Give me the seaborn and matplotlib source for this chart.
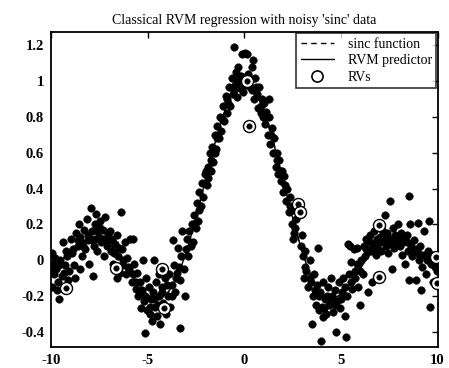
import numpy as np
import pandas as pd
import matplotlib
matplotlib.use("Agg")
import matplotlib.pyplot as plt
from matplotlib.lines import Line2D
import seaborn as sns

# ---- noisy data points ----
data_x = [
    -9.96, -9.9, -9.85, -9.8, -9.72, -9.65, -9.58, -9.55, -9.45, -9.38, -9.3, -9.2, -9.12, -9.05, -9.95, -9.7,
    -8.95, -8.9, -8.83, -8.75, -8.7, -8.62, -8.55, -8.5, -8.45, -8.38, -8.3, -8.22, -8.15, -8.08, -8.02, -8.5,
    -7.95, -7.9, -7.85, -7.8, -7.72, -7.65, -7.6, -7.52, -7.45, -7.4, -7.32, -7.25, -7.18, -7.1, -7.05, -7.6,
    -6.95, -6.9, -6.85, -6.78, -6.7, -6.64, -6.6, -6.52, -6.45, -6.38, -6.32, -6.25, -6.18, -6.1, -6.05, -6.6,
    -5.95, -5.9, -5.82, -5.78, -5.7, -5.62, -5.55, -5.48, -5.4, -5.35, -5.28, -5.2, -5.13, -5.1, -5.05, -5.26,
    -4.95, -4.9, -4.85, -4.78, -4.7, -4.69, -4.62, -4.55, -4.5, -4.42, -4.35, -4.28, -4.2, -4.12, -4.05, -4.4,
    -3.95, -3.9, -3.82, -3.75, -3.7, -3.65, -3.58, -3.5, -3.45, -3.35, -3.3, -3.25, -3.2, -3.12, -3.05, -3.02,
    -2.95, -2.9, -2.85, -2.78, -2.7, -2.65, -2.58, -2.52, -2.45, -2.4, -2.32, -2.25, -2.2, -2.12, -2.05,
    -1.95, -1.9, -1.85, -1.78, -1.72, -1.65, -1.6, -1.52, -1.45, -1.4, -1.33, -1.25, -1.2, -1.12, -1.05, -1.5,
    -0.95, -0.9, -0.85, -0.78, -0.72, -0.65, -0.6, -0.52, -0.5, -0.42, -0.35, -0.3, -0.22, -0.15, -0.1, -0.05, -0.3,
    0.05, 0.12, 0.15, 0.2, 0.26, 0.3, 0.38, 0.46, 0.5, 0.58, 0.65, 0.7, 0.78, 0.85, 0.92, 0.98, 0.4,
    1.02, 1.08, 1.15, 1.22, 1.28, 1.35, 1.42, 1.48, 1.55, 1.62, 1.7, 1.75, 1.82, 1.9, 1.96, 1.3,
    2.02, 2.08, 2.15, 2.22, 2.3, 2.38, 2.45, 2.52, 2.6, 2.68, 2.77, 2.86, 2.92, 2.98, 2.5,
    3.02, 3.08, 3.15, 3.22, 3.3, 3.38, 3.45, 3.5, 3.56, 3.62, 3.7, 3.8, 3.78, 3.85, 3.92, 3.98,
    4.02, 4.05, 4.1, 4.18, 4.25, 4.32, 4.4, 4.48, 4.55, 4.6, 4.68, 4.76, 4.82, 4.9, 4.96, 4.3,
    5.05, 5.12, 5.19, 5.27, 5.3, 5.37, 5.42, 5.45, 5.54, 5.6, 5.68, 5.75, 5.82, 5.9, 5.97, 5.85,
    6.05, 6.12, 6.18, 6.25, 6.32, 6.4, 6.45, 6.52, 6.6, 6.65, 6.72, 6.8, 6.86, 6.92, 6.98, 6.98, 6.5,
    7.05, 7.1, 7.15, 7.22, 7.27, 7.32, 7.4, 7.45, 7.53, 7.58, 7.62, 7.68, 7.75, 7.82, 7.9, 7.96,
    8.05, 8.12, 8.18, 8.25, 8.32, 8.4, 8.46, 8.54, 8.57, 8.54, 8.62, 8.7, 8.78, 8.87, 8.92, 8.97,
    9.05, 9.1, 9.15, 9.22, 9.3, 9.35, 9.42, 9.5, 9.58, 9.62, 9.68, 9.75, 9.82, 9.9, 9.95, 9.98,
]
data_y = [
    0.04, -0.02, -0.08, 0.01, -0.05, -0.12, -0.22, 0.0, -0.09, 0.1, -0.03, 0.05, -0.11, -0.06, -0.15, -0.17,
    0.12, 0.04, -0.03, -0.1, 0.15, 0.08, 0.2, -0.05, 0.1, 0.02, 0.17, 0.06, 0.23, 0.11, -0.02, 0.13,
    0.29, 0.16, -0.09, 0.08, 0.2, 0.26, 0.05, 0.13, 0.22, 0.1, 0.17, 0.02, 0.24, 0.08, 0.14, 0.16,
    0.16, 0.05, 0.11, -0.02, 0.09, -0.05, 0.14, 0.02, -0.07, 0.27, 0.06, -0.03, 0.1, -0.08, 0.01, -0.1,
    -0.05, 0.12, -0.12, 0.12, -0.02, -0.16, -0.07, -0.2, -0.12, -0.27, -0.17, -0.23, -0.41, -0.1, -0.28, 0.0,
    -0.15, -0.3, -0.22, -0.34, -0.18, 0.0, -0.26, -0.12, -0.31, -0.2, -0.36, -0.15, -0.24, -0.1, -0.3, -0.08,
    -0.2, -0.08, -0.26, -0.14, 0.11, -0.03, -0.18, -0.07, 0.07, -0.38, -0.11, 0.02, 0.16, -0.05, -0.2, 0.06,
    0.12, 0.02, 0.16, 0.08, 0.2, 0.1, 0.25, 0.18, 0.32, 0.22, 0.38, 0.3, 0.43, 0.35, 0.48,
    0.42, 0.52, 0.46, 0.6, 0.5, 0.63, 0.55, 0.7, 0.62, 0.75, 0.68, 0.8, 0.72, 0.86, 0.78, 0.6,
    0.92, 0.82, 0.88, 0.97, 0.86, 1.02, 0.93, 1.19, 0.98, 1.05, 0.91, 1.08, 0.96, 1.03, 1.15, 0.94, 1.0,
    1.16, 1.15, 1.0, 1.04, 0.75, 0.97, 1.08, 1.12, 0.9, 1.02, 0.93, 0.85, 0.97, 0.82, 0.9, 0.8, 0.95,
    0.88, 0.76, 0.83, 0.7, 0.8, 0.65, 0.74, 0.6, 0.68, 0.52, 0.6, 0.48, 0.56, 0.44, 0.5, 0.9,
    0.38, 0.47, 0.33, 0.4, 0.27, 0.35, 0.2, 0.28, 0.15, 0.23, 0.31, 0.27, 0.08, 0.14, 0.12,
    0.02, -0.1, 0.05, -0.06, -0.15, 0.0, -0.12, -0.36, -0.2, -0.08, -0.25, 0.07, -0.14, -0.28, -0.18, -0.45,
    -0.26, -0.32, -0.12, -0.22, -0.3, -0.15, -0.25, -0.1, -0.2, -0.29, -0.17, -0.4, -0.23, -0.12, -0.27, -0.2,
    -0.18, -0.1, -0.31, -0.43, -0.2, 0.09, -0.08, 0.08, -0.01, -0.16, 0.06, -0.1, -0.02, -0.15, -0.25, 0.07,
    0.0, -0.08, 0.08, 0.02, 0.12, -0.18, 0.05, 0.14, -0.12, 0.08, 0.16, 0.03, 0.12, 0.06, -0.1, 0.2, 0.1,
    0.13, 0.05, 0.17, 0.1, 0.25, 0.08, 0.15, 0.04, 0.33, 0.12, -0.05, 0.18, 0.07, 0.14, 0.1, 0.2,
    0.08, 0.15, 0.03, 0.12, -0.02, 0.1, 0.05, 0.36, 0.2, -0.11, 0.08, 0.02, 0.11, -0.11, 0.06, 0.21,
    0.0, 0.08, -0.17, -0.04, 0.16, 0.03, -0.08, 0.05, 0.22, -0.26, -0.02, -0.12, 0.02, 0.015, -0.13, -0.06,
]

# further points in the dense parts of the cloud
extra_x = [
    -9.88, -9.6, -9.35, -9.15, -8.85, -8.6, -8.35, -8.1, -7.88, -7.7, -7.48, -7.3, -7.15, -6.9, -6.75,
    -6.5, -6.3, -6.0, -5.75, -5.58, -5.38, -5.15, -4.88, -4.65, -4.45, -4.25, -3.98, -3.72, -3.55, -3.38,
    -2.6, -2.35, -1.98, -1.7, -1.42, -1.15, -0.88, -0.55, -0.25, 0.08, 0.35, 0.62, 0.88, 1.12, 1.4,
    1.68, 1.88, 2.12, 2.35, 2.62,
    3.12, 3.4, 3.65, 3.88, 4.15, 4.45, 4.7, 5.0, 5.22, 5.5, 5.72, 6.0, 6.28, 6.55, 6.78,
    7.0, 7.2, 7.38, 7.6, 7.85, 8.0, 8.2, 8.44, 8.68, 8.82, 9.0, 9.2, 9.45, 9.7, 9.88,
]
extra_y = [
    -0.05, -0.03, -0.07, 0.02, 0.06, 0.11, 0.08, 0.14, 0.11, 0.12, 0.18, 0.12, 0.1, 0.12, 0.04,
    0.07, 0.0, -0.04, -0.08, -0.12, -0.18, -0.2, -0.26, -0.22, -0.25, -0.18, -0.14, -0.2, -0.1, -0.04,
    0.2, 0.28, 0.5, 0.56, 0.68, 0.79, 0.9, 0.95, 1.02, 0.98, 1.01, 0.97, 0.86, 0.8, 0.7,
    0.56, 0.5, 0.42, 0.3, 0.18,
    -0.04, -0.1, -0.17, -0.2, -0.27, -0.22, -0.25, -0.22, -0.15, -0.12, -0.06, -0.06, 0.06, 0.05, 0.09,
    0.1, 0.14, 0.11, 0.09, 0.12, 0.12, 0.1, 0.14, 0.07, 0.04, 0.04, 0.03, 0.0, 0.03, -0.04,
]

# ---- relevance vectors (circled points) ----
rv_x = [-9.24, -6.64, -4.27, -4.17, 0.15, 0.26, 2.77, 2.86, 6.98, 6.98, 9.9, 9.95]
rv_y = [-0.155, -0.046, -0.052, -0.266, 1.0, 0.75, 0.313, 0.266, 0.196, -0.097, 0.015, -0.127]

# ---- curves, sampled every 0.25 from -10 to 10 ----
sinc_vals = [
    -0.0544, -0.0332, -0.0079, 0.0189, 0.0458, 0.0717, 0.0939, 0.1118, 0.1237, 0.1280,
    0.1251, 0.1137, 0.0939, 0.0664, 0.0330, -0.0053, -0.0466, -0.0880, -0.1283, -0.1640,
    -0.1918, -0.2098, -0.2172, -0.2100, -0.1892, -0.1524, -0.1002, -0.0333, 0.0470, 0.1388,
    0.2394, 0.3457, 0.4546, 0.5623, 0.6650, 0.7592, 0.8415, 0.9089, 0.9589, 0.9896,
    1.0,
    0.9896, 0.9589, 0.9089, 0.8415, 0.7592, 0.6650, 0.5623, 0.4546, 0.3457, 0.2394,
    0.1388, 0.0470, -0.0333, -0.1002, -0.1524, -0.1892, -0.2100, -0.2172, -0.2098, -0.1918,
    -0.1640, -0.1283, -0.0880, -0.0466, -0.0053, 0.0330, 0.0664, 0.0939, 0.1137, 0.1251,
    0.1280, 0.1237, 0.1118, 0.0939, 0.0717, 0.0458, 0.0189, -0.0079, -0.0332, -0.0544,
]
rvm_vals = [
    -0.048, -0.030, -0.006, 0.020, 0.046, 0.071, 0.092, 0.110, 0.121, 0.126,
    0.124, 0.112, 0.092, 0.064, 0.031, -0.007, -0.048, -0.090, -0.130, -0.166,
    -0.194, -0.211, -0.217, -0.209, -0.188, -0.151, -0.099, -0.033, 0.046, 0.137,
    0.237, 0.343, 0.452, 0.559, 0.661, 0.755, 0.836, 0.902, 0.951, 0.981,
    0.991,
    0.981, 0.951, 0.902, 0.836, 0.755, 0.661, 0.559, 0.452, 0.343, 0.237,
    0.137, 0.046, -0.034, -0.101, -0.152, -0.188, -0.208, -0.215, -0.208, -0.190,
    -0.163, -0.128, -0.089, -0.048, -0.007, 0.031, 0.064, 0.091, 0.110, 0.121,
    0.124, 0.120, 0.109, 0.092, 0.070, 0.045, 0.019, -0.007, -0.031, -0.051,
]
curve_x = np.linspace(-10, 10, len(sinc_vals))

x_ticks = [-10, -5, 0, 5, 10]
y_ticks = [-0.4, -0.2, 0, 0.2, 0.4, 0.6, 0.8, 1, 1.2]
y_ticklabels = ["-0.4", "-0.2", "0", "0.2", "0.4", "0.6", "0.8", "1", "1.2"]
title = "Classical RVM regression with noisy 'sinc' data"

sns.set_theme(style="white")
plt.rcParams["font.family"] = ["Liberation Serif", "DejaVu Serif"]

fig = plt.figure(figsize=(4.49, 3.68), dpi=100)
ax = fig.add_axes([51 / 449, 1 - 347 / 368, (437.5 - 51) / 449, (347 - 32) / 368])

pts = pd.DataFrame({"x": data_x + extra_x, "y": data_y + extra_y})
curves = pd.DataFrame({"x": curve_x, "sinc": sinc_vals, "rvm": rvm_vals})
rvs = pd.DataFrame({"x": rv_x, "y": rv_y})

sns.lineplot(data=curves, x="x", y="sinc", ax=ax, color="black", lw=1.0,
             linestyle=(0, (4, 3)), zorder=1)
sns.lineplot(data=curves, x="x", y="rvm", ax=ax, color="black", lw=1.0, zorder=2)
sns.scatterplot(data=pts, x="x", y="y", ax=ax, color="black", s=30,
                edgecolor="black", linewidth=0.3, zorder=3)
sns.scatterplot(data=rvs, x="x", y="y", ax=ax, s=75, facecolor="white",
                edgecolor="black", linewidth=1.0, zorder=4)
sns.scatterplot(data=rvs, x="x", y="y", ax=ax, s=16, color="black",
                edgecolor="black", linewidth=0.3, zorder=5)

ax.set_xlim(-10, 10)
ax.set_ylim(-0.486, 1.275)
ax.set_xticks(x_ticks)
ax.set_xticklabels([str(t) for t in x_ticks])
ax.set_yticks(y_ticks)
ax.set_yticklabels(y_ticklabels)
ax.set_xlabel("")
ax.set_ylabel("")
ax.tick_params(direction="in", top=True, right=True, length=4, width=1,
               labelsize=10.5, colors="black", pad=5)
for lab in ax.get_xticklabels() + ax.get_yticklabels():
    lab.set_fontweight("bold")
for sp in ax.spines.values():
    sp.set_color("black")
    sp.set_linewidth(1.3)
ax.set_title(title, fontsize=10, color="black", pad=6)

handles = [
    Line2D([0], [0], color="black", lw=1.0, linestyle=(0, (4, 3))),
    Line2D([0], [0], color="black", lw=1.0),
    Line2D([0], [0], marker="o", color="black", markerfacecolor="white",
           markeredgewidth=1.2, markersize=8, linestyle="none"),
]
labels = ["sinc function", "RVM predictor", "RVs"]
leg = ax.legend(handles, labels, loc="upper right", frameon=True, fancybox=False,
                edgecolor="black", fontsize=10, borderaxespad=0.1,
                handlelength=2.4, handletextpad=1.0, borderpad=0.3,
                labelspacing=0.25)
leg.get_frame().set_linewidth(1.2)
for t in leg.get_texts():
    t.set_color("black")

fig.savefig("out.png", dpi=100)
